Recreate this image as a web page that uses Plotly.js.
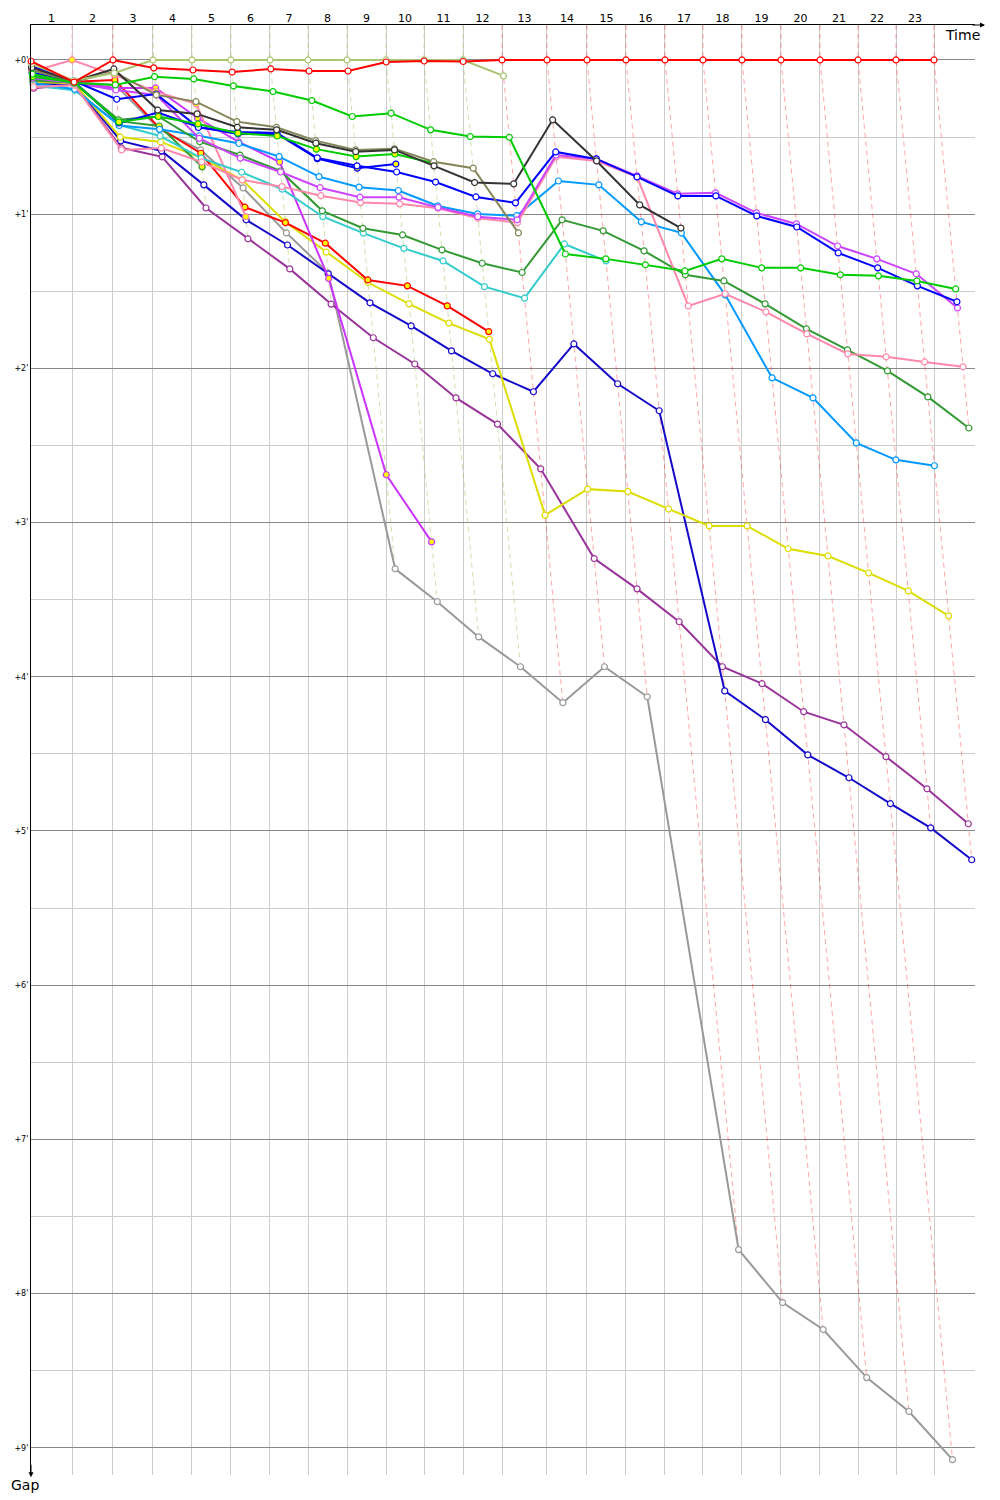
<!DOCTYPE html>
<html>
<head>
<meta charset="utf-8">
<script src="https://cdn.plot.ly/plotly-3.0.1.min.js"></script>
<style>
  html, body { margin: 0; padding: 0; background: #ffffff; }
  #chart { width: 1000px; height: 1500px; }
</style>
</head>
<body>
<div id="chart"></div>
<script>
// ---------- DATA ----------
// Leader's elapsed race time (seconds) at the end of each lap (index = lap number)
const lapEndTimes = [0, 168.5, 337.0, 501.4, 661.7, 822.0, 982.3, 1138.5, 1298.8, 1459.1, 1615.3,
  1775.6, 1935.9, 2120.8, 2285.2, 2445.5, 2605.8, 2762.0, 2922.3, 3082.6, 3242.9, 3399.1, 3555.3, 3711.5];
const lapLabels = ['1','2','3','4','5','6','7','8','9','10','11','12','13','14','15','16','17','18','19','20','21','22','23'];
const gapTickValues = [0, 60, 120, 180, 240, 300, 360, 420, 480, 540];
const gapTickText = ["+0'", "+1'", "+2'", "+3'", "+4'", "+5'", "+6'", "+7'", "+8'", "+9'"];

// Gap to the leader (seconds) at the end of each lap, index = lap number (0 = start)
const gapsGray = [5.0, 8.6, 9.7, 27.0, 35.0, 49.8, 67.3, 82.9, 198.0, 210.8, 224.5, 236.1, 250.1, 236.1, 247.8, 462.9, 483.5, 494.0, 512.7, 525.9, 544.6];
const gapsPurple = [11.0, 9.6, 34.2, 37.7, 57.6, 69.6, 81.3, 95.0, 108.1, 118.3, 131.5, 141.7, 159.1, 194.0, 205.8, 218.6, 236.1, 242.7, 253.6, 258.7, 271.1, 283.6, 297.2];
const gapsNavy = [9.5, 9.4, 31.5, 35.4, 48.6, 62.2, 72.0, 83.2, 94.5, 103.5, 113.2, 122.1, 129.1, 110.5, 126.0, 136.5, 245.5, 256.7, 270.4, 279.3, 289.4, 298.8, 311.2];
const gapsYellow = [8.5, 9.2, 30.0, 31.9, 38.1, 46.7, 63.0, 74.8, 86.6, 94.9, 102.4, 108.7, 177.1, 167.0, 167.9, 174.7, 181.3, 181.3, 190.2, 193.0, 199.6, 206.6, 216.3];
const gapsRed2 = [3.5, 8.5, 7.8, 26.5, 36.3, 57.3, 63.3, 71.3, 85.6, 87.9, 95.7, 105.7];
const gapsViolet2 = [6.0, 8.8, 10.9, 10.9, 22.6, 31.9, 39.7, 85.0, 161.4, 187.5];
const gapsPink2 = [4.5, 0, 5.8, 12.4, 17.1, 61.0];
const gapsForest2 = [8.0, 8.8, 23.8, 25.7, 41.6];
const gapsTurquoise = [10.0, 11.8, 25.3, 29.6, 38.2, 43.7, 50.3, 61.0, 67.4, 73.3, 78.2, 88.2, 92.7, 71.6, 78.2];
const gapsAzure = [9.0, 11.4, 25.5, 27.0, 29.5, 32.5, 37.6, 45.4, 49.5, 50.8, 56.8, 59.9, 60.6, 47.1, 48.6, 63.0, 67.3, 91.4, 123.7, 131.5, 149.0, 155.6, 157.9];
const gapsForest = [7.5, 9.0, 23.3, 22.0, 31.8, 37.0, 43.2, 58.7, 65.5, 68.1, 73.9, 79.1, 82.7, 62.2, 66.5, 74.3, 83.6, 86.0, 94.9, 104.6, 112.8, 121.0, 131.1, 143.2];
const gapsPink = [10.5, 9.8, 35.0, 34.3, 39.7, 46.7, 49.3, 52.8, 55.5, 56.0, 57.7, 61.6, 63.3, 37.7, 39.3, 45.5, 95.7, 91.0, 98.0, 106.6, 114.4, 115.5, 117.5, 119.4];
const gapsViolet = [7.0, 9.0, 11.7, 13.6, 30.5, 38.2, 43.6, 49.7, 53.4, 53.4, 57.4, 61.0, 62.2, 37.0, 38.5, 45.1, 52.1, 51.7, 59.5, 63.8, 72.4, 77.4, 83.2, 96.5];
const gapsBlue = [2.5, 8.2, 15.3, 13.3, 26.3, 28.0, 28.4, 38.1, 41.2, 43.6, 47.5, 53.3, 55.6, 35.8, 38.5, 45.5, 52.9, 52.9, 60.7, 65.0, 75.1, 80.9, 87.9, 94.1];
const gapsBlue2 = [5.0, 8.4, 24.5, 20.5, 26.1, 28.8, 28.8, 38.4, 42.1, 40.5];
const gapsGreen2 = [6.5, 8.7, 24.1, 22.0, 24.9, 28.5, 29.6, 34.7, 37.6, 36.6, 40.2];
const gapsOliveDark = [4.0, 8.5, 4.7, 13.6, 16.2, 24.0, 26.2, 31.4, 35.0, 34.6, 39.6, 42.1, 67.3];
const gapsBlack = [3.0, 8.3, 3.5, 19.5, 21.0, 26.2, 27.2, 32.4, 35.7, 35.0, 41.2, 47.7, 48.2, 23.3, 39.3, 56.4, 65.4];
const gapsGreen = [5.5, 9.0, 9.7, 6.5, 7.4, 10.1, 12.3, 15.8, 22.0, 20.7, 27.2, 29.8, 30.1, 75.5, 77.4, 79.7, 82.1, 77.4, 80.9, 80.9, 83.6, 84.0, 86.0, 89.1];
const gapsOliveLight = [1.5, 8.0, 5.1, 0, 0, 0, 0, 0, 0, 0, 0, 0, 6.2];
const gapsRed = [0.5, 8.6, 0, 3.1, 3.9, 4.7, 3.5, 4.3, 4.3, 0.8, 0.4, 0.6, 0, 0, 0, 0, 0, 0, 0, 0, 0, 0, 0, 0];

// ---------- STYLES ----------
const series = [
  { gaps: gapsGray,       color: '#999999', fill: '#ffffff' },
  { gaps: gapsPurple,     color: '#993399', fill: '#ffffff' },
  { gaps: gapsNavy,       color: '#1408c8', fill: '#ffffff' },
  { gaps: gapsYellow,     color: '#dddd00', fill: '#ffffff' },
  { gaps: gapsRed2,       color: '#ff0000', fill: '#ffff00' },
  { gaps: gapsViolet2,    color: '#cc33ff', fill: '#ffff00' },
  { gaps: gapsPink2,      color: '#ff88aa', fill: '#ffff00' },
  { gaps: gapsForest2,    color: '#339933', fill: '#ffff00' },
  { gaps: gapsTurquoise,  color: '#33cccc', fill: '#ffffff' },
  { gaps: gapsAzure,      color: '#0099ff', fill: '#ffffff' },
  { gaps: gapsForest,     color: '#339933', fill: '#ffffff' },
  { gaps: gapsPink,       color: '#ff88aa', fill: '#ffffff' },
  { gaps: gapsViolet,     color: '#cc44ff', fill: '#ffffff' },
  { gaps: gapsBlue2,      color: '#0000ff', fill: '#ffff00' },
  { gaps: gapsBlue,       color: '#0000ff', fill: '#ffffff' },
  { gaps: gapsGreen2,     color: '#00cc00', fill: '#ffff00' },
  { gaps: gapsOliveDark,  color: '#85855a', fill: '#ffffff' },
  { gaps: gapsBlack,      color: '#333333', fill: '#ffffff' },
  { gaps: gapsGreen,      color: '#00cc00', fill: '#ffffff' },
  { gaps: gapsOliveLight, color: '#aac670', fill: '#ffffff' },
  { gaps: gapsRed,        color: '#ff0000', fill: '#ffffff' }
];

const Y_TOP = -13.6, Y_BOTTOM = 550.6;
const X_MAX = 3880;

function rgba(hex, a) {
  const n = parseInt(hex.slice(1), 16);
  return 'rgba(' + ((n >> 16) & 255) + ',' + ((n >> 8) & 255) + ',' + (n & 255) + ',' + a + ')';
}

const traces = [];

// Lap lines (dashed): each lap's finishers, coloured after that lap's leader
for (let k = 1; k < lapEndTimes.length; k++) {
  const pts = [];
  series.forEach(s => { if (s.gaps.length > k) pts.push({ g: s.gaps[k], c: s.color }); });
  if (!pts.length) continue;
  pts.sort((a, b) => a.g - b.g);
  const xs = [lapEndTimes[k]], ys = [Y_TOP];
  pts.forEach(p => { xs.push(lapEndTimes[k] + p.g); ys.push(p.g); });
  traces.push({
    type: 'scatter', mode: 'lines', x: xs, y: ys,
    line: { color: rgba(pts[0].c, pts[0].c === '#ff0000' ? 0.35 : 0.55), width: 1, dash: '5px,4px' },
    hoverinfo: 'skip', showlegend: false
  });
}

// Driver lines
series.forEach(s => {
  traces.push({
    type: 'scatter', mode: 'lines+markers',
    x: s.gaps.map((g, i) => lapEndTimes[i] + g),
    y: s.gaps,
    line: { color: s.color, width: 2 },
    marker: { size: 6, color: s.fill, line: { color: s.color, width: 1.2 } },
    cliponaxis: false, showlegend: false
  });
});

// Dummy trace to register the top lap-label axis
const mids = lapLabels.map((_, i) => (lapEndTimes[i] + lapEndTimes[i + 1]) / 2);
traces.push({ type: 'scatter', mode: 'markers', x: [mids[0]], y: [0], xaxis: 'x2', yaxis: 'y',
  marker: { opacity: 0 }, hoverinfo: 'skip', showlegend: false });

const minorVals = gapTickValues.map(v => v + 30).filter(v => v < Y_BOTTOM);

const layout = {
  width: 1000, height: 1500,
  margin: { l: 31, r: 25, t: 25, b: 25 },
  paper_bgcolor: '#ffffff', plot_bgcolor: '#ffffff',
  showlegend: false,
  font: { family: 'DejaVu Sans, Arial, sans-serif', color: '#000000' },
  xaxis: {
    range: [0, X_MAX], side: 'top',
    tickmode: 'array', tickvals: lapEndTimes, showticklabels: false, ticks: '',
    showgrid: true, gridcolor: '#cccccc', gridwidth: 1,
    zeroline: false, showline: true, linecolor: '#000000', linewidth: 1
  },
  xaxis2: {
    range: [0, X_MAX], overlaying: 'x', side: 'top',
    tickmode: 'array', tickvals: mids, ticktext: lapLabels, ticks: '',
    showgrid: false, zeroline: false, showline: false,
    tickfont: { size: 11, color: '#000000' }
  },
  yaxis: {
    range: [Y_BOTTOM, Y_TOP],
    tickmode: 'array', tickvals: gapTickValues, ticktext: gapTickText, ticks: '',
    showgrid: true, gridcolor: '#888888', gridwidth: 1,
    zeroline: false, showline: true, linecolor: '#000000', linewidth: 1,
    tickfont: { size: 8, color: '#000000' },
    minor: { tickmode: 'array', tickvals: minorVals, showgrid: true, gridcolor: '#cccccc', gridwidth: 1, ticks: '' }
  },
  annotations: [
    { xref: 'paper', yref: 'paper', x: 1.0106, y: 1, ax: -14, ay: 0, text: '',
      showarrow: true, arrowhead: 2, arrowsize: 1, arrowwidth: 1, arrowcolor: '#000000' },
    { xref: 'paper', yref: 'paper', x: 0, y: -0.0015, ax: 0, ay: -14, text: '',
      showarrow: true, arrowhead: 2, arrowsize: 1, arrowwidth: 1, arrowcolor: '#000000' },
    { xref: 'paper', yref: 'paper', x: 1.0075, y: 0.9931, xanchor: 'right', yanchor: 'middle',
      text: 'Time', showarrow: false, font: { size: 14, color: '#000000' } },
    { xref: 'paper', yref: 'paper', x: -0.0064, y: -0.0072, xanchor: 'center', yanchor: 'middle',
      text: 'Gap', showarrow: false, font: { size: 14, color: '#000000' } }
  ]
};

Plotly.newPlot('chart', traces, layout, { displayModeBar: false, staticPlot: true });
</script>
</body>
</html>
